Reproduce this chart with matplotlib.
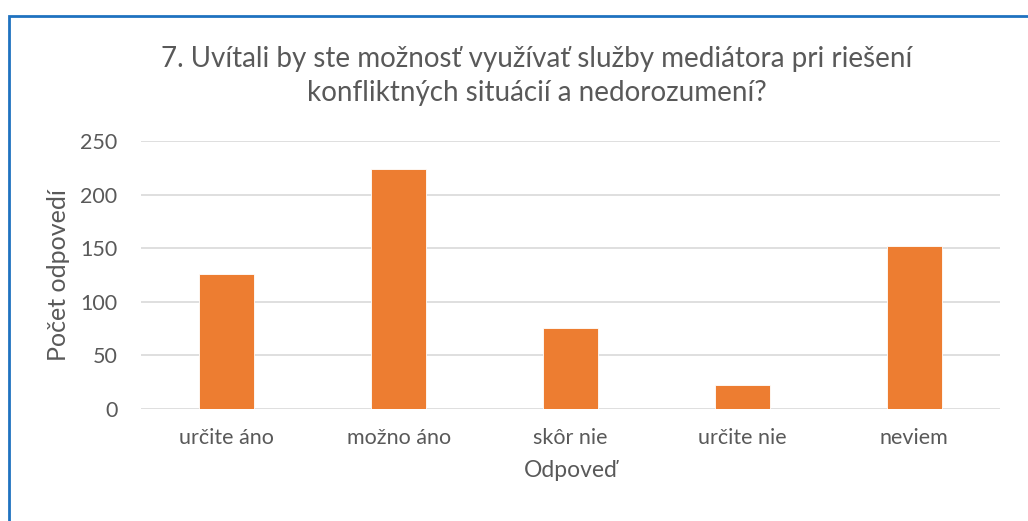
import matplotlib
matplotlib.use("Agg")
import matplotlib.pyplot as plt
from matplotlib.patches import Rectangle

plt.rcParams["font.family"] = ["Lato", "DejaVu Sans"]

categories = ["určite áno", "možno áno", "skôr nie", "určite nie", "neviem"]
counts = [126, 224, 76, 22, 152]
yticks = [0, 50, 100, 150, 200, 250]

TEXT = "#595959"
W, H = 1028, 521

fig = plt.figure(figsize=(W / 100, H / 100), dpi=100)
ax = fig.add_axes([141 / W, 1 - 409 / H, (1000 - 141) / W, (409 - 141) / H])

ax.bar(range(len(categories)), counts, width=0.32, color="#ED7D31",
       edgecolor="white", linewidth=0.6, zorder=3)

ax.set_xlim(-0.5, len(categories) - 0.5)
ax.set_ylim(0, 250)
ax.set_yticks(yticks)
ax.set_xticks(range(len(categories)))
ax.set_xticklabels(categories)
ax.grid(axis="y", color="#D9D9D9", lw=1.2, zorder=0)
for s in ax.spines.values():
    s.set_visible(False)
ax.tick_params(length=0, labelsize=15.5, colors=TEXT)
ax.tick_params(axis="y", pad=17)
ax.tick_params(axis="x", pad=14)

ax.set_xlabel("Odpoveď", fontsize=16.5, color=TEXT, labelpad=8)
ax.set_ylabel("Počet odpovedí", fontsize=18, color=TEXT, labelpad=7)

fig.text(537 / W, 1 - 76 / H,
         "7. Uvítali by ste možnosť využívať služby mediátora pri riešení\n"
         "konfliktných situácií a nedorozumení?",
         ha="center", va="center", fontsize=20, color=TEXT, linespacing=1.38)

fig.patches.append(Rectangle((8.5 / W, -0.1), 1.2, 1.1 - 15.5 / H,
                             transform=fig.transFigure, fill=False,
                             edgecolor="#1F72C0", linewidth=2))

fig.savefig("out.png", dpi=100)
